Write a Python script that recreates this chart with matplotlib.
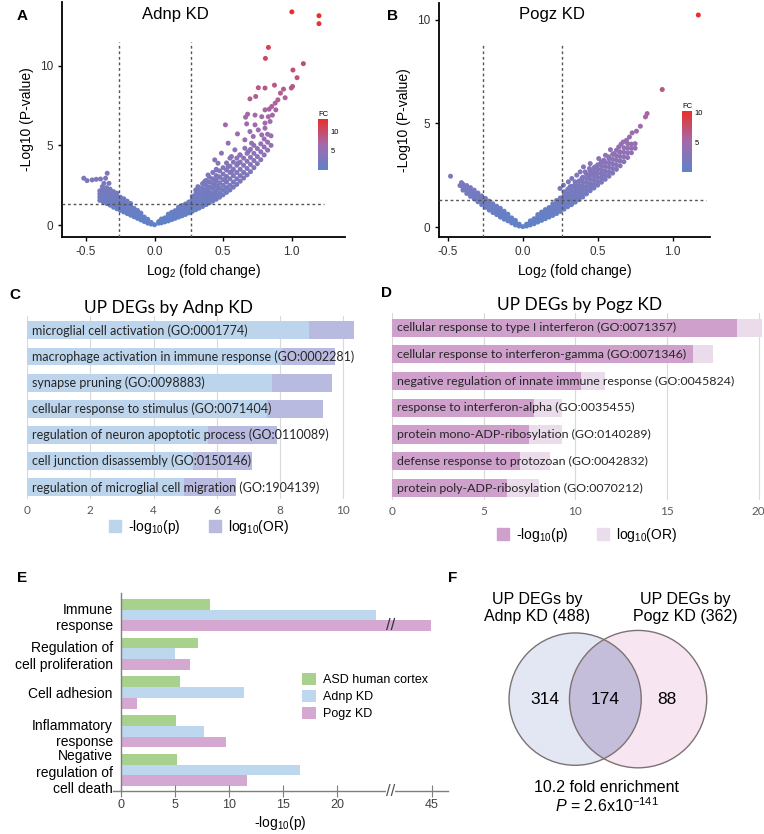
import numpy as np
import matplotlib
matplotlib.use("Agg")
import matplotlib.pyplot as plt
from matplotlib.colors import LinearSegmentedColormap
from matplotlib.patches import Patch, Circle

plt.rcParams['font.family'] = ['Liberation Sans', 'DejaVu Sans']
plt.rcParams['mathtext.fontset'] = 'custom'
plt.rcParams['mathtext.rm'] = 'Liberation Sans'
plt.rcParams['mathtext.it'] = 'Liberation Sans:italic'

# ---------------- data ----------------
fc_cut = 0.263      # log2(1.2)
p_cut = 1.3         # -log10(0.05)

# Adnp KD volcano: dense band as (log2FC, [-log10 p ...]) columns, plus scattered genes
adnp_band = [
    (-0.40, [1.55, 1.75, 1.95, 2.15]), (-0.375, [1.45, 1.65, 1.85, 2.05, 2.25]),
    (-0.35, [1.35, 1.55, 1.75, 1.95, 2.15, 2.35]), (-0.325, [1.25, 1.45, 1.65, 1.85, 2.05, 2.25]),
    (-0.30, [1.12, 1.3, 1.5, 1.7, 1.9, 2.1]), (-0.275, [1.02, 1.2, 1.4, 1.6, 1.8, 2.0]),
    (-0.25, [0.92, 1.1, 1.3, 1.5, 1.75]), (-0.225, [0.82, 1.0, 1.2, 1.45, 1.65]),
    (-0.20, [0.72, 0.9, 1.1, 1.3, 1.5]), (-0.175, [0.62, 0.8, 1.0, 1.2, 1.35]),
    (-0.15, [0.52, 0.7, 0.88, 1.05]), (-0.125, [0.42, 0.6, 0.75, 0.92]),
    (-0.10, [0.32, 0.48, 0.62, 0.75]), (-0.075, [0.22, 0.36, 0.5]),
    (-0.05, [0.12, 0.24, 0.36]), (-0.025, [0.06, 0.16]), (0.0, [0.02]),
    (0.03, [0.12, 0.22]), (0.05, [0.14, 0.26, 0.38]), (0.075, [0.2, 0.32, 0.45]),
    (0.10, [0.26, 0.4, 0.55, 0.68]), (0.125, [0.34, 0.5, 0.65, 0.8]),
    (0.15, [0.42, 0.58, 0.74, 0.9]), (0.175, [0.5, 0.66, 0.82, 1.0, 1.12]),
    (0.20, [0.58, 0.74, 0.9, 1.06, 1.22]), (0.225, [0.66, 0.82, 1.0, 1.16, 1.32]),
    (0.25, [0.76, 0.92, 1.1, 1.28, 1.45]), (0.275, [0.86, 1.02, 1.2, 1.4, 1.6, 1.8]),
    (0.30, [0.96, 1.14, 1.32, 1.52, 1.72, 1.95, 2.2]), (0.325, [1.06, 1.25, 1.45, 1.65, 1.88, 2.1, 2.35]),
    (0.35, [1.16, 1.36, 1.56, 1.8, 2.05, 2.3, 2.6]), (0.375, [1.28, 1.5, 1.72, 1.95, 2.2, 2.5, 2.8]),
    (0.40, [1.4, 1.62, 1.85, 2.1, 2.4, 2.7, 3.0]), (0.425, [1.5, 1.75, 2.0, 2.3, 2.6, 2.9, 3.3]),
    (0.45, [1.62, 1.88, 2.15, 2.45, 2.8, 3.1, 3.5]), (0.475, [1.75, 2.0, 2.3, 2.65, 3.0, 3.4]),
    (0.50, [1.9, 2.2, 2.5, 2.85, 3.2, 3.6]), (0.525, [2.05, 2.35, 2.7, 3.05, 3.45, 3.9]),
    (0.55, [2.2, 2.5, 2.9, 3.3, 3.7, 4.2]), (0.575, [2.38, 2.7, 3.1, 3.5, 3.95]),
    (0.60, [2.55, 2.9, 3.3, 3.75, 4.2]), (0.625, [2.75, 3.1, 3.5, 3.95, 4.4]),
    (0.65, [2.95, 3.3, 3.75, 4.2]), (0.675, [3.15, 3.55, 4.0, 4.5]),
    (0.70, [3.35, 3.8, 4.25, 4.75]), (0.725, [3.6, 4.05, 4.5, 5.0]),
    (0.75, [3.85, 4.3, 4.8]), (0.775, [4.1, 4.6, 5.1]),
    (0.80, [4.4, 4.9, 5.4]), (0.825, [4.7, 5.2, 5.7]), (0.85, [5.0, 5.6]),
]
adnp_scatter = [
    (-0.517, 2.94), (-0.493, 2.79), (-0.456, 2.83), (-0.426, 2.87), (-0.395, 2.89),
    (-0.346, 3.25), (-0.358, 2.94), (-0.37, 2.62), (-0.333, 2.62), (-0.382, 2.41),
    (1.002, 13.38), (1.20, 13.14), (1.20, 12.64), (0.831, 11.15), (0.809, 10.46),
    (1.086, 10.13), (1.01, 9.73), (1.04, 9.25), (1.007, 8.70), (0.998, 8.6),
    (0.875, 8.78), (0.806, 8.6), (0.757, 8.62), (0.941, 8.53), (0.953, 7.99),
    (0.919, 8.28), (0.696, 7.92), (0.738, 8.07), (0.90, 7.86), (0.88, 7.65),
    (0.855, 7.44), (0.836, 7.27), (0.806, 7.23), (0.885, 7.23), (0.679, 6.96),
    (0.664, 6.77), (0.733, 6.9), (0.782, 6.8), (0.83, 6.8), (0.86, 6.9),
    (0.517, 6.29), (0.672, 6.35), (0.733, 6.29), (0.806, 6.4), (0.843, 6.5),
    (0.605, 5.72), (0.696, 5.87), (0.757, 5.97), (0.806, 6.08), (0.537, 5.14),
    (0.659, 5.35), (0.72, 5.56), (0.782, 5.66), (0.488, 4.51), (0.586, 4.72),
    (0.659, 4.82), (0.708, 5.14), (0.439, 4.09), (0.463, 3.88), (0.561, 4.30),
    (0.622, 4.40), (0.684, 4.61), (0.451, 3.46), (0.537, 3.67), (0.61, 3.88),
    (0.39, 3.14), (0.463, 3.04), (0.561, 3.35), (0.365, 2.73), (0.439, 2.62),
    (0.512, 2.83), (0.316, 2.41), (0.39, 2.31), (0.463, 2.41),
]

# Pogz KD volcano
pogz_band = [
    (-0.40, [1.78, 1.92, 2.06]), (-0.375, [1.62, 1.76, 1.9, 2.0]),
    (-0.35, [1.48, 1.62, 1.76, 1.9]), (-0.325, [1.36, 1.5, 1.64, 1.78]),
    (-0.30, [1.22, 1.36, 1.5, 1.64]), (-0.275, [1.08, 1.22, 1.36, 1.5]),
    (-0.25, [0.95, 1.08, 1.22, 1.38]), (-0.225, [0.82, 0.96, 1.1, 1.25]),
    (-0.20, [0.7, 0.84, 0.98, 1.12]), (-0.175, [0.6, 0.72, 0.86, 1.0]),
    (-0.15, [0.48, 0.62, 0.76, 0.9]), (-0.125, [0.38, 0.5, 0.64, 0.76]),
    (-0.10, [0.3, 0.42, 0.54, 0.62]), (-0.075, [0.2, 0.32, 0.44]),
    (-0.05, [0.1, 0.22, 0.32]), (-0.025, [0.05, 0.14]), (0.0, [0.02]),
    (0.025, [0.05, 0.14]), (0.05, [0.1, 0.22, 0.3]), (0.075, [0.16, 0.28, 0.4]),
    (0.10, [0.24, 0.36, 0.5, 0.6]), (0.125, [0.32, 0.45, 0.6, 0.72]),
    (0.15, [0.4, 0.54, 0.68, 0.84]), (0.175, [0.48, 0.62, 0.78, 0.94]),
    (0.20, [0.56, 0.7, 0.86, 1.02, 1.12]), (0.225, [0.65, 0.8, 0.96, 1.12, 1.28]),
    (0.25, [0.75, 0.9, 1.06, 1.22, 1.4]), (0.275, [0.86, 1.0, 1.16, 1.34, 1.52, 1.7]),
    (0.30, [0.98, 1.12, 1.28, 1.46, 1.64, 1.82]), (0.325, [1.08, 1.24, 1.4, 1.58, 1.76, 1.96]),
    (0.35, [1.2, 1.36, 1.52, 1.7, 1.88, 2.06]), (0.375, [1.32, 1.48, 1.66, 1.84, 2.02, 2.22]),
    (0.40, [1.45, 1.62, 1.8, 1.98, 2.18, 2.4]), (0.425, [1.6, 1.76, 1.94, 2.14, 2.34, 2.55]),
    (0.45, [1.75, 1.92, 2.1, 2.3, 2.5, 2.7]), (0.475, [1.88, 2.06, 2.26, 2.46, 2.66, 2.85]),
    (0.50, [2.02, 2.2, 2.4, 2.6, 2.8, 3.0]), (0.525, [2.16, 2.36, 2.56, 2.76, 2.96, 3.15]),
    (0.55, [2.3, 2.5, 2.7, 2.92, 3.12]), (0.575, [2.45, 2.66, 2.88, 3.1, 3.3]),
    (0.60, [2.6, 2.82, 3.04, 3.26, 3.5]), (0.625, [2.78, 3.0, 3.22, 3.44]),
    (0.65, [2.95, 3.18, 3.4, 3.62]), (0.675, [3.15, 3.38, 3.6, 3.82]),
    (0.70, [3.35, 3.58, 3.8, 4.02]), (0.725, [3.58, 3.8, 4.0]), (0.75, [3.8, 4.02]),
]
pogz_scatter = [
    (-0.483, 2.45), (-0.42, 2.0), (-0.41, 2.14),
    (1.172, 10.22), (0.931, 6.63), (0.83, 5.47), (0.819, 5.31), (0.785, 4.86),
    (0.759, 4.62), (0.73, 4.54), (0.712, 4.34), (0.692, 4.18), (0.67, 4.10),
    (0.656, 3.99), (0.64, 3.86), (0.625, 3.70), (0.647, 3.62), (0.607, 3.54),
    (0.585, 3.73), (0.574, 3.38), (0.552, 3.46), (0.541, 3.22), (0.519, 3.06),
    (0.507, 3.30), (0.45, 3.06), (0.445, 2.82), (0.483, 2.9), (0.405, 2.9),
    (0.416, 2.66), (0.472, 2.58), (0.383, 2.66), (0.36, 2.5), (0.394, 2.34),
    (0.438, 2.42), (0.327, 2.34), (0.304, 2.18), (0.349, 2.18), (0.271, 2.02),
    (0.315, 1.94), (0.248, 1.86),
]

# GO enrichment (panels C, D)
adnp_terms = ["microglial cell activation (GO:0001774)",
              "macrophage activation in immune response (GO:0002281)",
              "synapse pruning (GO:0098883)",
              "cellular response to stimulus (GO:0071404)",
              "regulation of neuron apoptotic process (GO:0110089)",
              "cell junction disassembly (GO:0150146)",
              "regulation of microglial cell migration (GO:1904139)"]
adnp_logp = [8.9, 8.05, 7.75, 7.6, 5.73, 5.25, 4.95]
adnp_logor = [1.45, 1.7, 1.9, 1.77, 2.17, 1.85, 1.65]

pogz_terms = ["cellular response to type I interferon (GO:0071357)",
              "cellular response to interferon-gamma (GO:0071346)",
              "negative regulation of innate immune response (GO:0045824)",
              "response to interferon-alpha (GO:0035455)",
              "protein mono-ADP-ribosylation (GO:0140289)",
              "defense response to protozoan (GO:0042832)",
              "protein poly-ADP-ribosylation (GO:0070212)"]
pogz_logp = [18.8, 16.4, 10.3, 7.75, 7.5, 7.0, 6.3]
pogz_logor = [1.4, 1.1, 1.3, 1.55, 1.75, 1.6, 1.7]

# Panel E
e_cats = ["Immune\nresponse", "Regulation of\ncell proliferation", "Cell adhesion",
          "Inflammatory\nresponse", "Negative\nregulation of\ncell death"]
e_asd = [8.2, 7.1, 5.5, 5.1, 5.2]
e_adnp = [23.6, 5.0, 11.4, 7.7, 16.6]
e_pogz = [44.6, 6.4, 1.5, 9.7, 11.7]
e_ticks = [0, 5, 10, 15, 20, 45]
brk, squeeze = 25.0, 0.19

# Panel F
venn_only_adnp, venn_both, venn_only_pogz = 314, 174, 88
n_adnp, n_pogz = 488, 362
fold_enrich = 10.2

# ---------------- figure ----------------
W, H = 764, 834
fig = plt.figure(figsize=(W / 100, H / 100), dpi=100)


def box(l, t, r, b):
    return [l / W, 1 - b / H, (r - l) / W, (b - t) / H]


fc_cmap = LinearSegmentedColormap.from_list("fc", ["#5f82c8", "#a36aac", "#e8302a"])


def unpack(band, scatter):
    xs, ys = [], []
    for x, col in band:
        for y in col:
            xs.append(x)
            ys.append(y)
    for x, y in scatter:
        xs.append(x)
        ys.append(y)
    return np.array(xs), np.array(ys)


def volcano(rect, band, scatter, xlim, ylim, vtop, hright, title, title_px, cb_rect):
    x, y = unpack(band, scatter)
    ax = fig.add_axes(box(*rect))
    sc = ax.scatter(x, y, c=y, cmap=fc_cmap, vmin=0, vmax=y.max(), s=13,
                    linewidths=0, zorder=3)
    ax.vlines([-fc_cut, fc_cut], ylim[0], vtop, colors="#555555",
              linestyles=(0, (2, 2)), lw=1, zorder=4)
    ax.hlines(p_cut, xlim[0], hright, colors="#555555",
              linestyles=(0, (2, 2)), lw=1, zorder=4)
    ax.set_xlim(xlim)
    ax.set_ylim(ylim)
    ax.set_xticks([-0.5, 0, 0.5, 1.0])
    ax.set_xticklabels(["-0.5", "0.0", "0.5", "1.0"])
    ax.set_yticks([0, 5, 10])
    for s in ["top", "right"]:
        ax.spines[s].set_visible(False)
    for s in ["left", "bottom"]:
        ax.spines[s].set_linewidth(1.3)
    ax.tick_params(labelsize=8.5, labelcolor="#333333", length=3, width=1)
    ax.set_xlabel("Log$_2$ (fold change)", fontsize=10, labelpad=3)
    ax.set_ylabel("-Log10 (P-value)", fontsize=10, labelpad=4)
    fig.text(title_px[0] / W, 1 - title_px[1] / H, title, fontsize=12,
             ha="center", va="center")
    cax = fig.add_axes(box(*cb_rect))
    cb = fig.colorbar(sc, cax=cax)
    cb.outline.set_visible(False)
    cb.set_ticks([5, 10])
    cax.tick_params(labelsize=5.5, length=0, pad=2)
    cax.set_title("FC", fontsize=5.5, loc="left", pad=2)


volcano((62, 2, 345, 237), adnp_band, adnp_scatter, (-0.676, 1.39), (-0.75, 14.0),
        11.5, 1.24, "Adnp KD", (175, 14), (318, 119, 328, 170))
volcano((439, 3, 710, 237), pogz_band, pogz_scatter, (-0.56, 1.25), (-0.48, 10.8),
        8.85, 1.22, "Pogz KD", (552, 14), (682, 111, 692, 172))


def go_panel(rect, terms, logp, logor, c_p, c_or, xlim, xticks, title, title_px,
             text_x, leg_px, fsize):
    ax = fig.add_axes(box(*rect))
    ypos = np.arange(len(terms))
    ax.barh(ypos, logp, height=0.68, color=c_p, zorder=2)
    ax.barh(ypos, logor, left=logp, height=0.68, color=c_or, zorder=2)
    for yy, t in zip(ypos, terms):
        ax.text(text_x, yy, t, va="center", ha="left", fontsize=fsize,
                family="Lato", color="#262626", zorder=3)
    ax.set_ylim(len(terms) - 0.55, -0.55)
    ax.set_xlim(xlim)
    ax.set_xticks(xticks)
    ax.set_yticks([])
    ax.grid(axis="x", color="#d9d9d9", lw=0.8, zorder=0)
    for s in ax.spines.values():
        s.set_visible(False)
    ax.tick_params(axis="x", length=0, labelsize=8.5, labelcolor="#595959", pad=4)
    for lab in ax.get_xticklabels():
        lab.set_family("Lato")
    fig.text(title_px[0] / W, 1 - title_px[1] / H, title, fontsize=12.5,
             family="Lato", ha="center", va="center")
    handles = [Patch(color=c_p), Patch(color=c_or)]
    fig.legend(handles, ["-log$_{10}$(p)", "log$_{10}$(OR)"], loc="center",
               bbox_to_anchor=(leg_px[0] / W, 1 - leg_px[1] / H), ncol=2,
               frameon=False, fontsize=10, handlelength=0.9, handleheight=0.9,
               handletextpad=0.5, columnspacing=2.0)


go_panel((27, 316, 375, 499), adnp_terms, adnp_logp, adnp_logor, "#bcd5ec", "#b9badf",
         (0, 11), [0, 2, 4, 6, 8, 10], "UP DEGs by Adnp KD", (168, 308), 0.16, (199, 527), 9.0)
go_panel((392, 313, 764, 500), pogz_terms, pogz_logp, pogz_logor, "#cfa0cc", "#eadcea",
         (0, 20.3), [0, 5, 10, 15, 20], "UP DEGs by Pogz KD", (580, 305), 0.27, (587, 535), 8.9)


# Panel E: broken x axis through a function scale
def fwd(v):
    v = np.asarray(v, dtype=float)
    return np.where(v <= brk, v, brk + (v - brk) * squeeze)


def inv(d):
    d = np.asarray(d, dtype=float)
    return np.where(d <= brk, d, brk + (d - brk) / squeeze)


axe = fig.add_axes(box(113, 593, 448, 791))
axe.set_xscale("function", functions=(fwd, inv))
gpos = np.arange(len(e_cats))
bh = 0.277
axe.barh(gpos - bh, e_asd, height=bh, color="#a9d18e", label="ASD human cortex")
axe.barh(gpos, e_adnp, height=bh, color="#bdd7ee", label="Adnp KD")
axe.barh(gpos + bh, e_pogz, height=bh, color="#d5a8d1", label="Pogz KD")
axe.set_ylim(len(e_cats) - 0.46, -0.57)
axe.set_xlim(-0.75, inv(30.3))
axe.set_xticks(e_ticks)
axe.set_xticklabels([str(t) for t in e_ticks])
axe.xaxis.set_minor_locator(matplotlib.ticker.NullLocator())
axe.set_yticks(gpos)
axe.set_yticklabels(e_cats, multialignment="left", fontsize=8.7, linespacing=1.05)
axe.spines["left"].set_position(("data", 0))
for s in ["top", "right"]:
    axe.spines[s].set_visible(False)
for s in ["left", "bottom"]:
    axe.spines[s].set_color("#7f7f7f")
    axe.spines[s].set_linewidth(1)
axe.tick_params(axis="y", length=0, pad=6)
axe.tick_params(axis="x", direction="inout", length=8, color="#7f7f7f",
                labelsize=9, labelcolor="#404040", pad=2)
axe.set_xlabel("-log$_{10}$(p)", fontsize=10, labelpad=2)
axe.text(brk, gpos[0] + bh, "//", ha="center", va="center", fontsize=12,
         color="#333333")
axe.text(brk, 0.0, "//", ha="center", va="center", fontsize=12, color="#555555",
         transform=axe.get_xaxis_transform(), clip_on=False,
         bbox=dict(facecolor="white", edgecolor="none", pad=0))
axe.legend(loc="upper left", bbox_to_anchor=(302 / W, 1 - 673 / H),
           bbox_transform=fig.transFigure, frameon=False, fontsize=9,
           handlelength=1.1, handleheight=1.1, handletextpad=0.6,
           labelspacing=0.3, borderaxespad=0, borderpad=0)

# Panel F: Venn diagram
vax = fig.add_axes(box(470, 580, 764, 834))
vax.set_xlim(-2.17, 2.5)
vax.set_ylim(-2.14, 1.89)
vax.axis("off")
c_left = Circle((-0.5, 0), 1.05, fc="#e3e6f3", ec="none")
c_right = Circle((0.5, 0), 1.09, fc="#f7e6f1", ec="none")
vax.add_patch(c_left)
vax.add_patch(c_right)
c_mid = Circle((0.5, 0), 1.09, fc="#c5bedb", ec="none")
vax.add_patch(c_mid)
c_mid.set_clip_path(Circle((-0.5, 0), 1.05, transform=vax.transData))
for c in [(-0.5, 1.05), (0.5, 1.09)]:
    vax.add_patch(Circle((c[0], 0), c[1], fill=False, ec="#7d7272", lw=1))
vax.text(-0.98, 0, str(venn_only_adnp), ha="center", va="center", fontsize=12.5)
vax.text(-0.02, 0, str(venn_both), ha="center", va="center", fontsize=12.5)
vax.text(0.96, 0, str(venn_only_pogz), ha="center", va="center", fontsize=12.5)
fig.text(537 / W, 1 - 608 / H, f"UP DEGs by\nAdnp KD ({n_adnp})", ha="center",
         va="center", fontsize=11.5, linespacing=1.15)
fig.text(685 / W, 1 - 608 / H, f"UP DEGs by\nPogz KD ({n_pogz})", ha="center",
         va="center", fontsize=11.5, linespacing=1.15)
fig.text(607 / W, 1 - 787 / H, f"{fold_enrich} fold enrichment", ha="center",
         va="center", fontsize=11.5)
fig.text(607 / W, 1 - 806 / H, "$\\it{P}$ = 2.6x10$^{-141}$", ha="center",
         va="center", fontsize=11.5)

# panel letters
for letter, (px, py) in {"A": (22, 16), "B": (393, 16), "C": (15, 295),
                         "D": (387, 293), "E": (22, 578), "F": (453, 578)}.items():
    fig.text(px / W, 1 - py / H, letter, fontsize=11, fontweight="bold",
             ha="center", va="center")

fig.savefig("out.png", dpi=100)
